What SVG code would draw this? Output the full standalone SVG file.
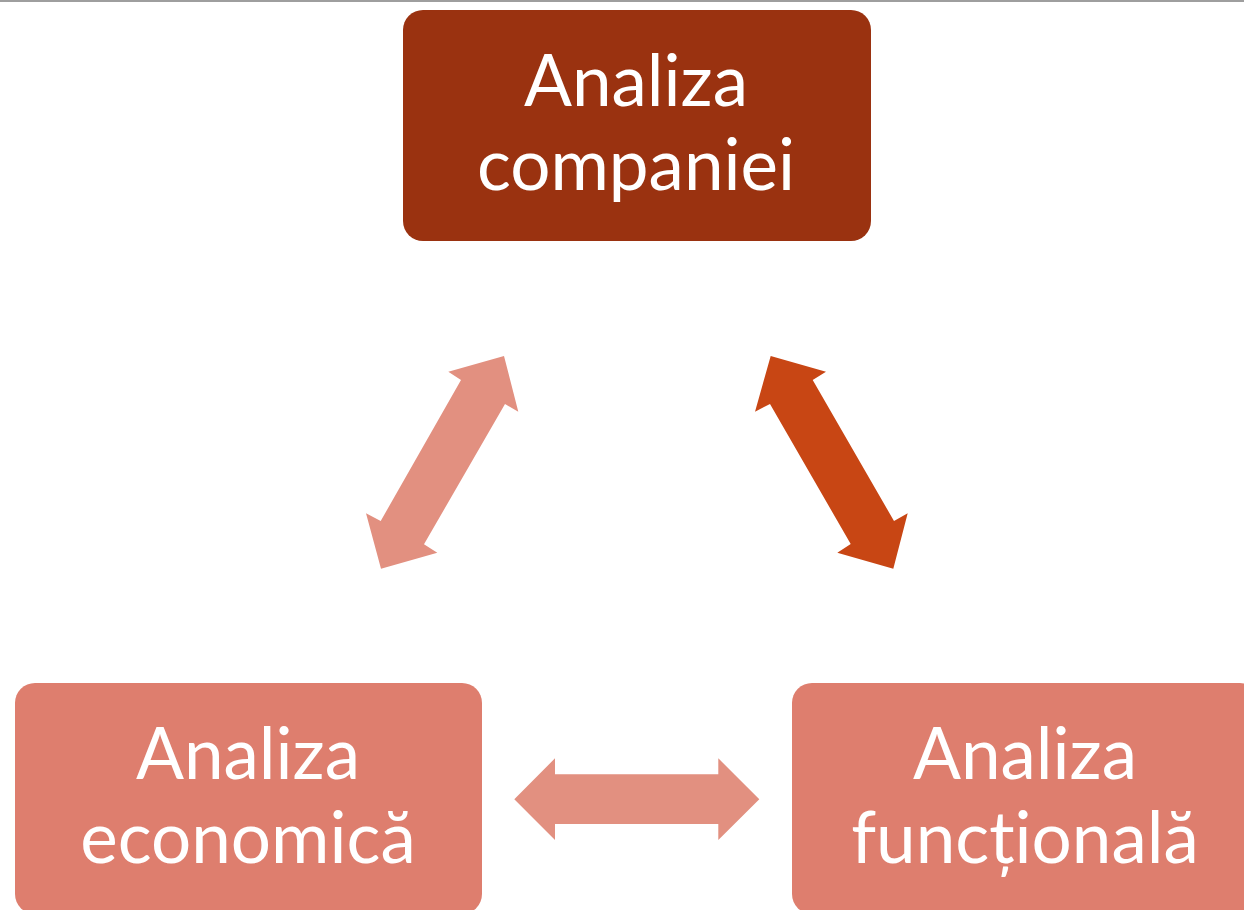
<svg xmlns="http://www.w3.org/2000/svg" width="1244" height="910" viewBox="0 0 1244 910">
<style>
.lbl{font-family:Lato,"Open Sans","Liberation Sans",sans-serif;font-size:71px;fill:#ffffff;text-anchor:middle}
.dark{fill:#9A3210}
.light{fill:#DE7E6E}
.arrL{fill:#E29080}
.arrR{fill:#C84614}
</style>
<rect x="0" y="0" width="1244" height="910" fill="#ffffff"/>
<rect x="0" y="0" width="1244" height="2" fill="#9E9E9E"/>
<g id="connectors">
<polygon class="arrL" points="504,356 518.3,411.7 505,404 424,544.3 437.3,552.7 381,568.7 366,513.3 380.7,521 461,380 448.3,371.7"/>
<polygon class="arrR" points="770.7,356 826,371.7 812.7,380 894,521 907.7,513.3 893.3,568.7 837.3,552.7 850.7,544 770,404 755,411.7"/>
<polygon class="arrL" points="514.3,799.3 555,758.3 555,774.3 718.3,774.3 718.3,758.3 759.3,799.3 718.3,840 718.3,824 555,824 555,840"/>
</g>
<g id="node-companie">
<rect class="dark" x="403" y="10" width="468" height="231" rx="20" ry="20"/>
<text class="lbl" x="636" y="106">Analiza</text>
<text class="lbl" x="636" y="190">companiei</text>
</g>
<g id="node-economica">
<rect class="light" x="15" y="683" width="467" height="231" rx="20" ry="20"/>
<text class="lbl" x="248" y="779">Analiza</text>
<text class="lbl" x="248" y="863">economică</text>
</g>
<g id="node-functionala">
<rect class="light" x="792" y="683" width="468" height="231" rx="20" ry="20"/>
<text class="lbl" x="1025" y="779">Analiza</text>
<text class="lbl" x="1025" y="863">funcțională</text>
</g>
</svg>
